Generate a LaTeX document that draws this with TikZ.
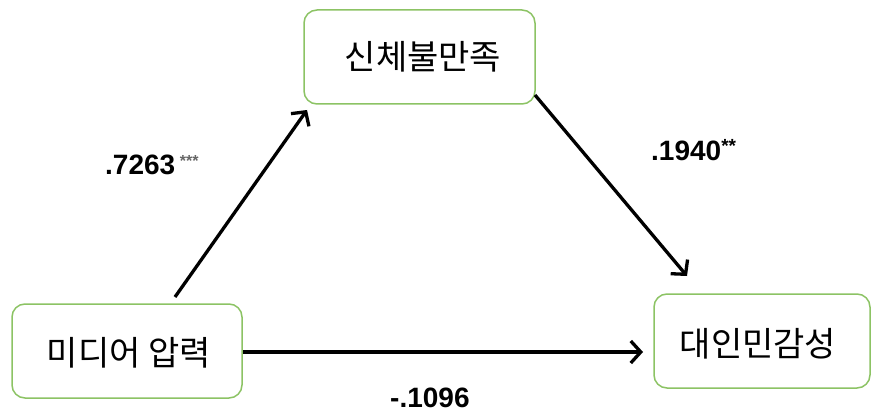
\documentclass[tikz,border=0pt]{standalone}
\usepackage{fontspec}
\newfontfamily\kor{Noto Sans CJK KR}
\newfontfamily\num{Liberation Sans}
\usetikzlibrary{arrows.meta}
\definecolor{boxgreen}{RGB}{140,195,100}
\tikzset{
  box/.style={draw=boxgreen, line width=1.5pt, rounded corners=13pt, fill=white},
  korlabel/.style={font=\kor\fontsize{34}{36}\selectfont},
  coef/.style={font=\num\bfseries\fontsize{28}{30}\selectfont, inner sep=0pt},
  conn/.style={line width=3.3pt, -{Straight Barb[length=10pt,width=22pt,line width=3.3pt]}}
}
\begin{document}
\begin{tikzpicture}[x=1pt,y=-1pt]
\useasboundingbox (0,0) rectangle (871,412);
\draw[box] (304,10) rectangle (535,104);
\draw[box] (12,304) rectangle (242,398);
\draw[box] (654,294) rectangle (870,388);
\node[korlabel] (top) at (423,57) {신체불만족};
\node[korlabel] (left) at (129,353) {미디어 압력};
\node[korlabel] (right) at (758,344) {대인민감성};
\coordinate (a1) at (175,297);
\coordinate (a2) at (307,110);
\coordinate (b1) at (535,95);
\coordinate (b2) at (687,276);
\coordinate (c1) at (243,352);
\coordinate (c2) at (643,352);
\draw[conn] (a1) -- (a2);
\draw[conn] (b1) -- (b2);
\draw[conn] (c1) -- (c2);
\node[coef, anchor=base west] (l1) at (105,175) {.7263\,\raisebox{9pt}{\color{black!60}\fontsize{16}{16}\selectfont ***}};
\node[coef, anchor=base west] (l2) at (651,160) {.1940\raisebox{7pt}{\fontsize{19}{19}\selectfont **}};
\node[coef, anchor=base west] (l3) at (390,407) {-.1096};
\end{tikzpicture}
\end{document}
